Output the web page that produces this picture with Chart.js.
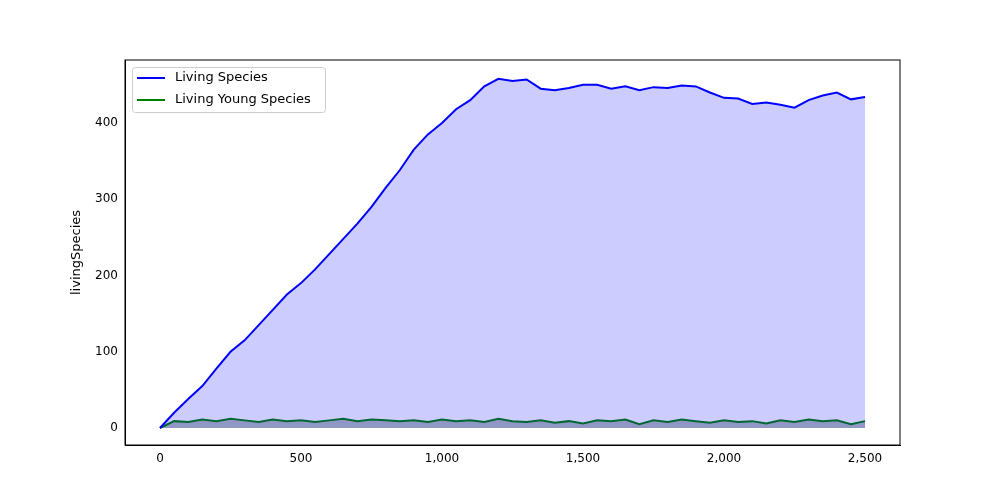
<!DOCTYPE html>
<html><head><script src="https://cdn.jsdelivr.net/npm/chart.js@4"></script>
<style>body{margin:0;background:#fff}</style></head><body>
<canvas id="c" width="1000" height="500"></canvas>
<script>
const steps=[0,50,100,150,200,250,300,350,400,450,500,550,600,650,700,750,800,850,900,950,1000,1050,1100,1150,1200,1250,1300,1350,1400,1450,1500,1550,1600,1650,1700,1750,1800,1850,1900,1950,2000,2050,2100,2150,2200,2250,2300,2350,2400,2450,2500];
const livingSpecies=[0,20,38,55,78,100,115,135,155,175,190,208,228,248,268,290,315,338,365,385,400,418,430,448,458,455,457,445,443,446,450,450,445,448,443,447,446,449,448,440,433,432,425,427,424,420,430,436,440,431,434];
const livingYoung=[0,9,8,11,9,12,10,8,11,9,10,8,10,12,9,11,10,9,10,8,11,9,10,8,12,9,8,10,7,9,6,10,9,11,5,10,8,11,9,7,10,8,9,6,10,8,11,9,10,5,9];
const xTicks=[0,500,1000,1500,2000,2500];
const yTicks=[0,100,200,300,400];
const legendPlugin={id:'lg',afterDraw(ch){const c=ch.ctx,a=ch.chartArea;const x=a.left+7,y=a.top+7,w=193,h=45;
c.save();c.fillStyle='rgba(255,255,255,0.8)';c.strokeStyle='#ccc';c.lineWidth=1;
c.beginPath();c.roundRect(x+.5,y+.5,w,h,3);c.fill();c.stroke();
c.font='13px "DejaVu Sans"';c.textBaseline='middle';
ch.data.datasets.forEach((d,i)=>{const yy=y+11+i*22;c.strokeStyle=d.borderColor;c.lineWidth=2;c.beginPath();c.moveTo(x+5,yy);c.lineTo(x+33,yy);c.stroke();c.fillStyle='#000';c.fillText(d.label,x+43,yy);});
c.restore();}};
new Chart(document.getElementById('c'),{type:'line',
data:{datasets:[
{label:'Living Species',data:steps.map((s,i)=>({x:s,y:livingSpecies[i]})),borderColor:'#0000ff',backgroundColor:'rgba(0,0,255,0.2)',fill:'origin',borderWidth:2,pointRadius:0,tension:0},
{label:'Living Young Species',data:steps.map((s,i)=>({x:s,y:livingYoung[i]})),borderColor:'#008000',backgroundColor:'rgba(70,90,70,0.4)',fill:'origin',borderWidth:2,pointRadius:0,tension:0}]},
options:{responsive:false,animation:false,layout:{padding:{left:65,top:60,right:100,bottom:0}},
plugins:{legend:{display:false},tooltip:{enabled:false}},
scales:{
x:{type:'linear',min:-124,max:2624,afterBuildTicks(s){s.ticks=xTicks.map(v=>({value:v}));},afterFit(s){s.height=55;},
grid:{display:false,drawTicks:true,tickLength:4,tickColor:'#000'},border:{color:'#000'},ticks:{color:'#000',font:{size:12,family:'DejaVu Sans'},maxRotation:0,autoSkip:false}},
y:{min:-22.3,max:482.6,afterBuildTicks(s){s.ticks=yTicks.map(v=>({value:v}));},afterFit(s){s.width=60;},
title:{display:true,text:'livingSpecies',color:'#000',font:{size:13,family:'DejaVu Sans'}},
grid:{display:false,tickLength:4,tickColor:'#000'},border:{color:'#000'},ticks:{color:'#000',font:{size:12,family:'DejaVu Sans'},autoSkip:false}}}},
plugins:[legendPlugin,{id:'frame',afterDraw(ch){const c=ch.ctx,a=ch.chartArea;c.save();c.strokeStyle='#000';c.lineWidth=1;c.strokeRect(a.left,a.top,a.right-a.left,a.bottom-a.top);c.restore();}}]});
</script></body></html>
